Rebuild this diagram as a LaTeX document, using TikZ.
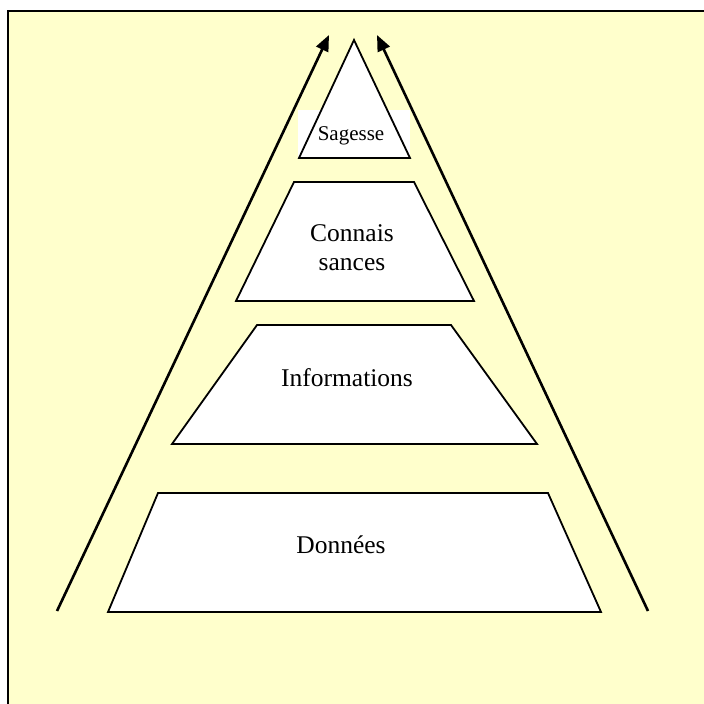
\documentclass[tikz,border=0pt]{standalone}
\usepackage{fontspec}
\setmainfont{Liberation Serif}
\usetikzlibrary{arrows.meta}
\definecolor{bgyellow}{HTML}{FFFFCC}
\tikzset{
  level/.style={draw=black, fill=white, line width=1.8pt, line join=miter},
  lbl/.style={font=\fontsize{25.5}{29}\selectfont, anchor=base, inner sep=0pt},
  smalllbl/.style={font=\fontsize{21}{25}\selectfont, anchor=base, inner sep=0pt},
  uparrow/.style={line width=2.6pt, -{Triangle[length=16pt,width=13pt]}}
}
\begin{document}
\begin{tikzpicture}[x=1pt,y=-1pt]
\useasboundingbox (0,0) rectangle (704,704);
% background
\fill[white] (0,0) rectangle (704,704);
\fill[bgyellow] (8,11) rectangle (704,704);
\draw[line width=2.4pt] (8,704) -- (8,11) -- (704,11);
% Sagesse
\fill[white] (298,110) rectangle (410,158);
\draw[level] (354,40) -- (410,158) -- (299,158) -- cycle;
\node[smalllbl] (sag) at (351,140) {Sagesse};
% Connaissances
\draw[level] (294,182) -- (414,182) -- (474,301) -- (236,301) -- cycle;
\node[lbl] (con1) at (352,241) {Connais};
\node[lbl] (con2) at (352,270) {sances};
% Informations
\draw[level] (257,325) -- (451,325) -- (537,444) -- (172,444) -- cycle;
\node[lbl] (inf) at (347,386) {Informations};
% Donnees
\draw[level] (158,493) -- (548,493) -- (601,612) -- (108,612) -- cycle;
\node[lbl] (don) at (341,553) {Données};
% arrows
\coordinate (la) at (57,611);
\coordinate (lb) at (329,35);
\coordinate (ra) at (648,611);
\coordinate (rb) at (377,35);
\draw[uparrow] (la) -- (lb);
\draw[uparrow] (ra) -- (rb);
\end{tikzpicture}
\end{document}
